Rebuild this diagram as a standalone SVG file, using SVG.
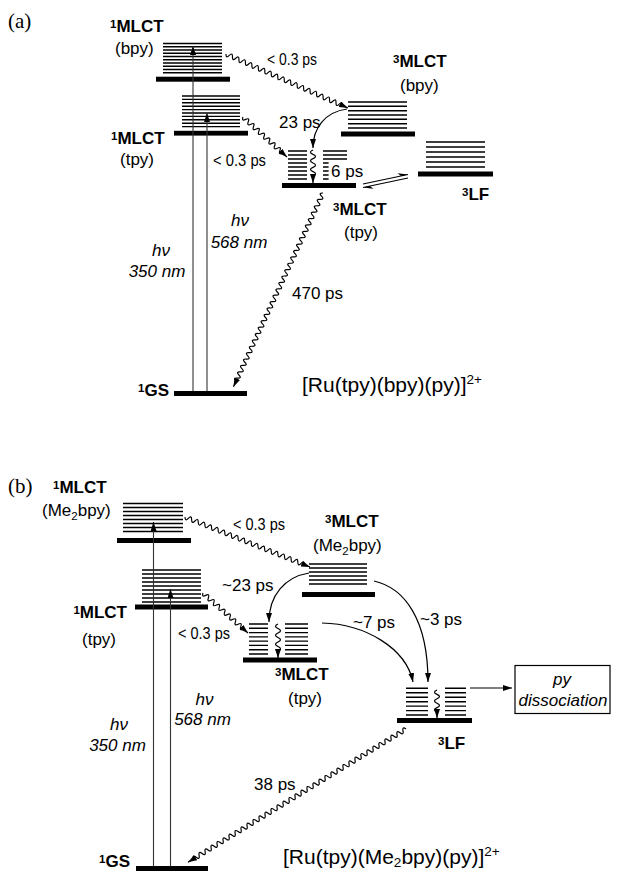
<svg xmlns="http://www.w3.org/2000/svg" width="617" height="872" viewBox="0 0 617 872">
<style>
.lv{stroke:#000;stroke-width:1.4;fill:none}
.bar{fill:#000}
.ln{stroke:#000;stroke-width:1.2;fill:none}
.ar{stroke:#000;stroke-width:1.2;fill:none;marker-end:url(#ah)}
.hv{stroke:#333;stroke-width:1.1;fill:none;marker-end:url(#ah)}
text{font-family:"Liberation Sans",Arial,Helvetica,sans-serif;font-size:17px;fill:#000}
.b{font-weight:bold}
.i{font-style:italic}
.pl{font-family:"Liberation Serif","Times New Roman",serif;font-size:21px}
.big{font-size:21px}
</style>
<defs>
<marker id="ah" viewBox="0 0 9 6" markerWidth="9" markerHeight="6" refX="9" refY="3" orient="auto" markerUnits="userSpaceOnUse">
<path d="M0,0 L9,3 L0,6 z" fill="#000"/>
</marker>
</defs>
<rect width="617" height="872" fill="#fff"/>

<!-- Panel (a) -->
<text class="pl" x="8" y="28">(a)</text>
<g id="a-1MLCT-bpy">
<path class="lv" d="M163,43.5H222M163,46.75H222M163,50H222M163,53.25H222M163,56.5H222M163,59.75H222M163,63H222M163,66.25H222M163,69.5H222M163,72.75H222"/>
<rect class="bar" x="156" y="76.7" width="74" height="5"/>
<text class="b" x="110" y="32"><tspan font-size="11.5" dy="-4">1</tspan><tspan dy="4">MLCT</tspan></text>
<text x="115" y="54">(bpy)</text>
</g>
<g id="a-1MLCT-tpy">
<path class="lv" d="M182,96H240M182,99.4H240M182,102.8H240M182,106.2H240M182,109.6H240M182,113H240M182,116.4H240M182,119.8H240M182,123.2H240M182,126.6H240"/>
<rect class="bar" x="174" y="130.8" width="74" height="4.8"/>
<text class="b" x="111" y="144"><tspan font-size="11.5" dy="-4">1</tspan><tspan dy="4">MLCT</tspan></text>
<text x="120" y="165">(tpy)</text>
</g>
<g id="a-3MLCT-bpy">
<path class="lv" d="M348,102H407M348,106.3H407M348,110.7H407M348,115H407M348,119.3H407M348,123.7H407M348,128H407"/>
<rect class="bar" x="341" y="131.5" width="74" height="5"/>
<text class="b" x="393" y="67"><tspan font-size="11.5" dy="-4">3</tspan><tspan dy="4">MLCT</tspan></text>
<text x="400" y="91">(bpy)</text>
</g>
<g id="a-3MLCT-tpy">
<path class="lv" d="M288,151H307M288,155H307M288,159H307M288,163H307M288,167H307M288,171H307M288,175H307M288,179H307M323,151H347M323,155H347M323,159H347M323,163H347M323,167H347M323,171H347M323,175H347M323,179H347"/>
<rect x="328.6" y="160.8" width="38" height="19.5" fill="#fff"/>
<rect class="bar" x="282" y="183" width="74" height="5"/>
<text class="b" x="333" y="215"><tspan font-size="11.5" dy="-4">3</tspan><tspan dy="4">MLCT</tspan></text>
<text x="344" y="238">(tpy)</text>
</g>
<g id="a-3LF">
<path class="lv" d="M426,142H485M426,147H485M426,152H485M426,157H485M426,162H485M426,167H485"/>
<rect class="bar" x="418" y="171.5" width="75" height="5"/>
<text class="b" x="462" y="200"><tspan font-size="11.5" dy="-4">3</tspan><tspan dy="4">LF</tspan></text>
</g>
<g id="a-1GS">
<rect class="bar" x="174" y="391" width="73" height="5"/>
<text class="b" x="169" y="396" text-anchor="end"><tspan font-size="11.5" dy="-4">1</tspan><tspan dy="4">GS</tspan></text>
</g>
<text class="big" x="302" y="392">[Ru(tpy)(bpy)(py)]<tspan font-size="13.5" dy="-8">2+</tspan></text>

<g id="a-connectors">
<path class="hv" d="M193,391V46"/>
<path class="hv" d="M207,391V113"/>
<path class="ar" d="M226,54q-0.203,4.831 3.236,1.432t3.236,1.432 3.236,1.432 3.236,1.432 3.236,1.432 3.236,1.432 3.236,1.432 3.236,1.432 3.236,1.432 3.236,1.432 3.236,1.432 3.236,1.432 3.236,1.432 3.236,1.432 3.236,1.432 3.236,1.432 3.236,1.432 3.236,1.432 3.236,1.432 3.236,1.432 3.236,1.432 3.236,1.432 3.236,1.432 3.236,1.432 3.236,1.432 3.236,1.432 3.236,1.432 3.236,1.432 3.236,1.432 3.236,1.432 3.236,1.432 3.236,1.432 3.236,1.432 3.236,1.432 3.236,1.432 3.236,1.432l5.486,2.428"/>
<path class="ar" d="M243,117q-1.708,4.529 2.637,2.398t2.637,2.398 2.637,2.398 2.637,2.398 2.637,2.398 2.637,2.398 2.637,2.398 2.637,2.398 2.637,2.398 2.637,2.398 2.637,2.398 2.637,2.398 2.637,2.398 2.637,2.398 2.637,2.398l4.44,4.036"/>
<path class="ar" d="M347,109C325,112 313,128 313,148"/>
<path class="ar" d="M313,150q-5,2.167 0,4.333t0,4.333 0,4.333 0,4.333 0,4.333 0,4.333l0,7"/>
<path class="ln" d="M363,184L408,174.5"/>
<polygon points="408,174.5 397.5,173.15 401.15,175.95" fill="#000"/>
<path class="ln" d="M408,178L363,187.5"/>
<polygon points="363,187.5 373.5,188.86 369.85,186.05" fill="#000"/>
<path class="ar" d="M323,193q-4.823,-0.291 -1.475,3.193t-1.475,3.193 -1.475,3.193 -1.475,3.193 -1.475,3.193 -1.475,3.193 -1.475,3.193 -1.475,3.193 -1.475,3.193 -1.475,3.193 -1.475,3.193 -1.475,3.193 -1.475,3.193 -1.475,3.193 -1.475,3.193 -1.475,3.193 -1.475,3.193 -1.475,3.193 -1.475,3.193 -1.475,3.193 -1.475,3.193 -1.475,3.193 -1.475,3.193 -1.475,3.193 -1.475,3.193 -1.475,3.193 -1.475,3.193 -1.475,3.193 -1.475,3.193 -1.475,3.193 -1.475,3.193 -1.475,3.193 -1.475,3.193 -1.475,3.193 -1.475,3.193 -1.475,3.193 -1.475,3.193 -1.475,3.193 -1.475,3.193 -1.475,3.193 -1.475,3.193 -1.475,3.193 -1.475,3.193 -1.475,3.193 -1.475,3.193 -1.475,3.193 -1.475,3.193 -1.475,3.193 -1.475,3.193 -1.475,3.193 -1.475,3.193 -1.475,3.193 -1.475,3.193 -1.475,3.193 -1.475,3.193 -1.475,3.193 -1.475,3.193 -1.475,3.193 -1.475,3.193l-2.516,5.447"/>
<text x="267" y="65" font-size="16" textLength="50" lengthAdjust="spacingAndGlyphs">&lt; 0.3 ps</text>
<text x="213" y="166" font-size="16" textLength="53" lengthAdjust="spacingAndGlyphs">&lt; 0.3 ps</text>
<text x="279" y="128">23 ps</text>
<text x="331" y="177">6 ps</text>
<text class="i" x="240" y="226" font-size="18" text-anchor="middle">hν</text>
<text class="i" x="239" y="248" text-anchor="middle">568 nm</text>
<text class="i" x="161" y="256" font-size="18" text-anchor="middle">hν</text>
<text class="i" x="157" y="277" text-anchor="middle">350 nm</text>
<text x="292" y="299">470 ps</text>
</g>

<!-- Panel (b) -->
<text class="pl" x="8" y="493">(b)</text>
<g id="b-1MLCT-Me2bpy">
<path class="lv" d="M123,503.5H183M123,507.5H183M123,511.5H183M123,515.5H183M123,519.5H183M123,523.5H183M123,527.5H183M123,531.5H183"/>
<rect class="bar" x="117" y="538" width="74" height="5"/>
<text class="b" x="53" y="493"><tspan font-size="11.5" dy="-4">1</tspan><tspan dy="4">MLCT</tspan></text>
<text x="42" y="516">(Me<tspan font-size="11.5" dy="4">2</tspan><tspan dy="-4">bpy)</tspan></text>
</g>
<g id="b-1MLCT-tpy">
<path class="lv" d="M142,570H201M142,574H201M142,578H201M142,582H201M142,586H201M142,590H201M142,594H201M142,598H201M142,602H201"/>
<rect class="bar" x="135" y="604.5" width="73" height="5"/>
<text class="b" x="127" y="618" text-anchor="end"><tspan font-size="11.5" dy="-4">1</tspan><tspan dy="4">MLCT</tspan></text>
<text x="82" y="645">(tpy)</text>
</g>
<g id="b-3MLCT-Me2bpy">
<path class="lv" d="M309,564H367M309,568H367M309,572H367M309,576H367M309,580H367M309,584H367"/>
<rect class="bar" x="302" y="592" width="73" height="5"/>
<text class="b" x="325" y="527"><tspan font-size="11.5" dy="-4">3</tspan><tspan dy="4">MLCT</tspan></text>
<text x="313" y="551">(Me<tspan font-size="11.5" dy="4">2</tspan><tspan dy="-4">bpy)</tspan></text>
</g>
<g id="b-3MLCT-tpy">
<path class="lv" d="M249,624H268M249,628.3H268M249,632.6H268M249,636.9H268M249,641.1H268M249,645.4H268M249,649.7H268M249,654H268M285,624H308M285,628.3H308M285,632.6H308M285,636.9H308M285,641.1H308M285,645.4H308M285,649.7H308M285,654H308"/>
<rect class="bar" x="243" y="657.5" width="74" height="5"/>
<text class="b" x="275" y="680"><tspan font-size="11.5" dy="-4">3</tspan><tspan dy="4">MLCT</tspan></text>
<text x="288" y="704">(tpy)</text>
</g>
<g id="b-3LF">
<path class="lv" d="M406,688.3H428M406,692.8H428M406,697.2H428M406,701.7H428M406,706.1H428M406,710.6H428M406,715H428M445,688.3H466M445,692.8H466M445,697.2H466M445,701.7H466M445,706.1H466M445,710.6H466M445,715H466"/>
<rect class="bar" x="397" y="718" width="75" height="5"/>
<text class="b" x="438" y="749"><tspan font-size="11.5" dy="-4">3</tspan><tspan dy="4">LF</tspan></text>
</g>
<g id="b-py-dissociation">
<rect x="515" y="665.5" width="95" height="48" fill="none" stroke="#000" stroke-width="1.2"/>
<text class="i" x="562" y="685" text-anchor="middle">py</text>
<text class="i" x="563" y="706" text-anchor="middle">dissociation</text>
</g>
<g id="b-1GS">
<rect class="bar" x="136" y="866" width="72" height="5"/>
<text class="b" x="130" y="867" text-anchor="end"><tspan font-size="11.5" dy="-4">1</tspan><tspan dy="4">GS</tspan></text>
</g>
<text class="big" x="283" y="864">[Ru(tpy)(Me<tspan font-size="13.5" dy="3">2</tspan><tspan dy="-3">bpy)(py)]</tspan><tspan font-size="13.5" dy="-8">2+</tspan></text>

<g id="b-connectors">
<path class="hv" d="M153.5,866V522"/>
<path class="hv" d="M170.5,866V589"/>
<path class="ar" d="M185,517q-0.012,4.842 3.318,1.327t3.318,1.327 3.318,1.327 3.318,1.327 3.318,1.327 3.318,1.327 3.318,1.327 3.318,1.327 3.318,1.327 3.318,1.327 3.318,1.327 3.318,1.327 3.318,1.327 3.318,1.327 3.318,1.327 3.318,1.327 3.318,1.327 3.318,1.327 3.318,1.327 3.318,1.327 3.318,1.327 3.318,1.327 3.318,1.327 3.318,1.327 3.318,1.327 3.318,1.327 3.318,1.327 3.318,1.327 3.318,1.327 3.318,1.327 3.318,1.327 3.318,1.327 3.318,1.327 3.318,1.327 3.318,1.327 3.318,1.327l5.571,2.228"/>
<path class="ar" d="M203,593q-1.639,4.564 2.701,2.401t2.701,2.401 2.701,2.401 2.701,2.401 2.701,2.401 2.701,2.401 2.701,2.401 2.701,2.401 2.701,2.401 2.701,2.401 2.701,2.401 2.701,2.401 2.701,2.401 2.701,2.401 2.701,2.401l4.484,3.986"/>
<path class="ar" d="M309,573C285,577 269,595 269,622"/>
<path class="ar" d="M278,624q-5,2.25 0,4.5t0,4.5 0,4.5 0,4.5 0,4.5 0,4.5l0,7"/>
<path class="ar" d="M322,623C365,624 406,648 413,682"/>
<path class="ar" d="M374,581C405,588 428,620 428,682"/>
<path class="ar" d="M437,690q-5,2.2 0,4.4t0,4.4 0,4.4 0,4.4 0,4.4l0,6"/>
<path class="ar" d="M470,688H512"/>
<path class="ar" d="M406,729q-3.845,-2.924 -2.998,1.832t-2.998,1.832 -2.998,1.832 -2.998,1.832 -2.998,1.832 -2.998,1.832 -2.998,1.832 -2.998,1.832 -2.998,1.832 -2.998,1.832 -2.998,1.832 -2.998,1.832 -2.998,1.832 -2.998,1.832 -2.998,1.832 -2.998,1.832 -2.998,1.832 -2.998,1.832 -2.998,1.832 -2.998,1.832 -2.998,1.832 -2.998,1.832 -2.998,1.832 -2.998,1.832 -2.998,1.832 -2.998,1.832 -2.998,1.832 -2.998,1.832 -2.998,1.832 -2.998,1.832 -2.998,1.832 -2.998,1.832 -2.998,1.832 -2.998,1.832 -2.998,1.832 -2.998,1.832 -2.998,1.832 -2.998,1.832 -2.998,1.832 -2.998,1.832 -2.998,1.832 -2.998,1.832 -2.998,1.832 -2.998,1.832 -2.998,1.832 -2.998,1.832 -2.998,1.832 -2.998,1.832 -2.998,1.832 -2.998,1.832 -2.998,1.832 -2.998,1.832 -2.998,1.832 -2.998,1.832 -2.998,1.832 -2.998,1.832 -2.998,1.832 -2.998,1.832 -2.998,1.832 -2.998,1.832 -2.998,1.832 -2.998,1.832 -2.998,1.832 -2.998,1.832 -2.998,1.832 -2.998,1.832 -2.998,1.832 -2.998,1.832 -2.998,1.832 -2.998,1.832 -2.998,1.832l-5.12,3.128"/>
<text x="233" y="530" font-size="16" textLength="52" lengthAdjust="spacingAndGlyphs">&lt; 0.3 ps</text>
<text x="178" y="639" font-size="16" textLength="52" lengthAdjust="spacingAndGlyphs">&lt; 0.3 ps</text>
<text x="222" y="591">~23 ps</text>
<text x="353" y="628">~7 ps</text>
<text x="420" y="625">~3 ps</text>
<text class="i" x="204.5" y="705" font-size="18" text-anchor="middle">hν</text>
<text class="i" x="202.5" y="725" text-anchor="middle">568 nm</text>
<text class="i" x="119" y="730" font-size="18" text-anchor="middle">hν</text>
<text class="i" x="117.5" y="751" text-anchor="middle">350 nm</text>
<text x="254" y="790">38 ps</text>
</g>
</svg>
